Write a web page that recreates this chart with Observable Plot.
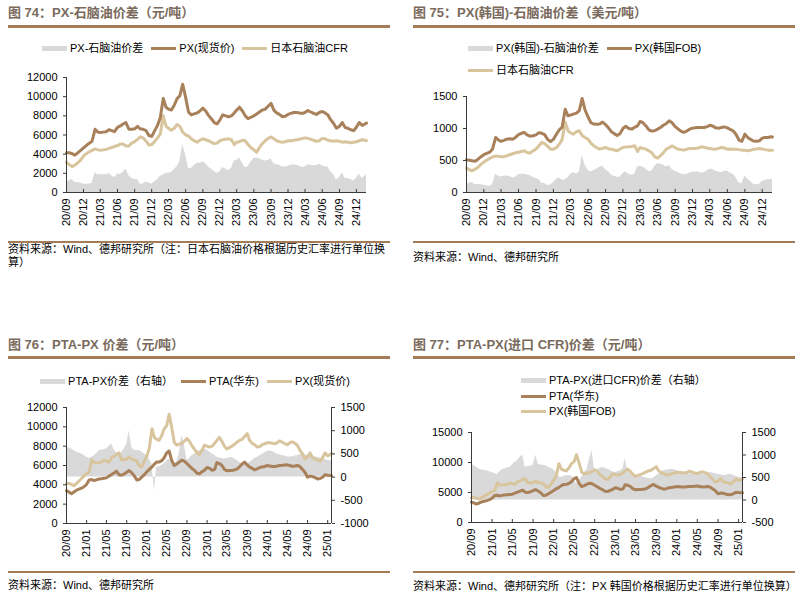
<!DOCTYPE html>
<html><head><meta charset="utf-8">
<script src="https://cdn.jsdelivr.net/npm/d3@7"></script>
<script src="https://cdn.jsdelivr.net/npm/@observablehq/plot@0.6"></script>
<style>
body{margin:0;background:#fff;}
#page{position:relative;width:805px;height:600px;overflow:hidden;font-family:"Liberation Sans",Arial,"Noto Sans CJK SC",sans-serif;color:#000;}
.title{position:absolute;font-size:13px;line-height:15px;font-weight:bold;color:#7a6a5c;white-space:nowrap;}
.rule{position:absolute;height:3px;background:#a57c58;}
.rule2{position:absolute;height:2px;background:#a57c58;}
.legend{position:absolute;font-size:11px;line-height:14px;white-space:nowrap;display:flex;align-items:center;}
.item{display:flex;align-items:center;margin-right:8px;}
.sw{display:inline-block;width:25px;margin-right:3px;}
.src{position:absolute;font-size:11px;line-height:13px;}
.plot{position:absolute;}
</style></head>
<body><div id="page"></div>
<script>
// ---------- data (semi-monthly readings, 2020-09 .. 2025-01) ----------
const pxCny = [
4150,4150,4050,3900,4150,4400,4650,4900,5150,5350,6600,6300,
6250,6300,6350,6550,6450,6350,6800,6950,7150,7300,6600,6600,
6650,6900,6650,6600,6450,5950,5850,6400,7000,7800,9800,8900,
8700,8600,9100,9800,10100,11300,9900,8400,8100,8200,8300,8500,
8800,8500,8050,7700,7300,7150,7550,8100,8000,7900,8000,8300,
8600,8900,8500,8000,7700,7850,8000,8200,8400,8600,8700,9000,
9300,8600,8300,8150,7900,7950,8150,8250,8350,8350,8300,8250,
8350,8550,8400,8250,8150,8350,8450,8300,8100,7600,7200,6700,
6900,7300,6800,6700,6550,6450,6800,7300,7000,7150,7250];
const naphCny = [
3150,2900,2700,2850,3100,3400,3800,4050,4250,4400,4550,4450,
4400,4450,4500,4600,4700,4800,4900,5050,5050,4850,4850,5150,
5300,5550,5800,5700,5350,4950,5000,5300,5700,6100,8000,6900,
6700,6500,6700,7100,6900,6300,6000,5900,5600,5400,5250,5450,
5600,5500,5400,5250,5100,5150,5400,5500,5550,5600,5500,5000,
5250,5300,5450,5400,5000,4700,4450,4200,4700,5100,5400,5650,
5800,5600,5400,5300,5250,5300,5400,5400,5450,5500,5550,5650,
5700,5650,5550,5450,5350,5400,5650,5600,5450,5400,5350,5400,
5350,5250,5300,5250,5200,5250,5300,5400,5500,5450,5400];
const spread74 = [
1000,1250,1350,1050,1050,1000,850,850,900,950,2050,1850,
1850,1850,1850,1950,1750,1550,1900,1900,2100,2450,1750,1450,
1350,1350,850,900,1100,1000,850,1100,1300,1700,1800,2000,
2000,2100,2400,2700,3200,5000,3900,2500,2500,2800,3050,3050,
3200,3000,2650,2450,2200,2000,2150,2600,2450,2300,2500,3300,
3350,3600,3050,2600,2700,3150,3550,3600,3500,3400,3300,3350,
3500,3000,2900,2850,2650,2650,2750,2850,2900,2850,2750,2600,
2650,2900,2850,2800,2800,2950,2800,2700,2650,2200,1850,1300,
1550,2050,1500,1450,1350,1200,1500,1900,1500,1700,1850];
const pxKorUsd = [
510,505,495,487,520,560,590,610,630,680,860,820,
800,815,833,840,833,860,905,925,938,900,880,886,
900,935,925,905,830,795,830,905,980,1020,1300,1198,
1210,1224,1240,1280,1470,1290,1180,1090,1070,1065,1070,1100,
1060,1010,950,920,890,920,1000,1035,1000,990,1020,1042,
1110,1090,1040,980,960,964,990,1016,1050,1075,1120,1090,
1030,995,960,940,960,990,1005,1010,1016,1016,1016,1030,
1050,1040,1010,1005,1015,1026,1010,985,964,910,820,800,
912,860,830,805,800,808,850,860,860,870,868];
const naphUsd = [
380,355,339,365,395,440,475,505,535,555,570,565,
557,560,575,590,605,620,628,640,651,625,615,650,
680,730,781,765,720,677,677,700,755,830,1100,964,
930,912,950,964,890,860,833,770,729,700,677,690,
703,685,677,665,651,680,703,710,714,720,729,640,
703,690,677,650,625,560,537,573,620,677,700,729,
700,677,670,662,675,688,688,688,695,714,705,695,
688,680,677,690,703,695,677,680,677,677,670,662,
660,651,660,677,680,688,680,670,662,662,662];
const spread75 = [
130,150,156,122,125,120,115,105,95,125,290,255,
243,255,258,250,228,240,277,285,287,275,265,236,
220,205,144,140,110,118,153,205,225,190,200,234,
280,312,290,316,580,430,347,320,341,365,393,410,
357,325,273,255,239,240,297,325,286,270,291,402,
407,400,363,330,335,404,453,443,430,398,420,361,
330,318,290,278,285,302,317,322,321,302,311,335,
362,360,333,315,312,331,333,305,287,233,150,138,
252,209,170,128,120,120,170,190,198,208,206];
const ptaCny = [
3400,3250,3070,3250,3450,3550,3650,3800,4050,4500,4550,4440,
4520,4600,4640,4680,4720,4900,5060,5230,5410,5050,5000,5110,
5300,5480,5250,4950,4500,4550,4800,5050,5350,5600,5850,6150,
6350,6350,6500,6800,7300,7500,6500,6000,6150,6350,6550,6450,
6200,5950,5700,5500,5200,5150,5350,5500,5800,5700,5500,5600,
6300,6200,6000,5600,5450,5480,5480,5550,5620,5850,6150,6350,
6050,5850,5700,5550,5650,5800,5850,5900,6000,5950,5900,5900,
5950,6000,6020,6050,6070,6000,5920,5950,6000,5900,5600,5300,
4790,4900,4860,4750,4610,4650,4790,5050,4990,4960,4960];
const spread76 = [
643,625,607,570,535,520,500,470,430,400,420,460,
500,560,580,595,607,660,715,590,520,470,530,600,
700,1000,650,571,571,571,540,500,460,380,280,-300,
220,220,250,290,340,390,330,290,320,500,900,700,
360,400,462,500,550,575,590,607,580,540,500,470,
430,410,400,390,400,415,420,390,360,320,290,282,
300,315,350,400,420,460,490,520,550,565,550,520,
500,480,465,455,440,430,440,455,462,480,500,480,
470,460,450,435,426,410,395,380,360,354,350];
const pxKorCny = pxCny;
const spread77 = [
797,760,720,690,670,655,650,630,610,590,575,620,
670,695,710,723,780,840,880,950,1000,730,740,750,
760,1000,800,780,770,760,730,700,680,600,520,500,
520,540,540,540,450,354,440,500,620,660,900,1100,
660,680,700,723,705,686,660,630,612,630,650,700,
920,640,590,570,550,540,520,505,495,480,470,490,
540,575,620,650,665,680,686,670,655,640,625,612,
595,578,590,605,612,595,580,575,595,610,600,585,
575,560,545,550,565,575,550,525,505,500,500];

const ticksQ = ["2020-09-01","2020-12-01","2021-03-01","2021-06-01","2021-09-01","2021-12-01","2022-03-01","2022-06-01","2022-09-01","2022-12-01","2023-03-01","2023-06-01","2023-09-01","2023-12-01","2024-03-01","2024-06-01","2024-09-01","2024-12-01"];
const ticks4 = ["2020-09-01","2021-01-01","2021-05-01","2021-09-01","2022-01-01","2022-05-01","2022-09-01","2023-01-01","2023-05-01","2023-09-01","2024-01-01","2024-05-01","2024-09-01","2025-01-01"];
const yTicks74 = [0,2000,4000,6000,8000,10000,12000];
const yTicks75 = [0,500,1000,1500];
const yTicks76 = [0,2000,4000,6000,8000,10000,12000];
const rTicks76 = [-1000,-500,0,500,1000,1500];
const yTicks77 = [0,5000,10000,15000];
const rTicks77 = [-500,0,500,1000,1500];

// ---------- dates ----------
const dates = d3.utcMonth.range(new Date("2020-09-01"), new Date("2025-02-01")).flatMap(d => [d, d3.utcDay.offset(d, 15)]);
dates.push(new Date("2025-01-24"));
const xDomain = [new Date("2020-09-01"), new Date("2025-01-24")];
const all = {pxCny, naphCny, spread74, pxKorUsd, naphUsd, spread75, ptaCny, spread76, spread77};
for (const [k, a] of Object.entries(all)) if (a.length !== dates.length) throw new Error(k + " has " + a.length + " vs " + dates.length);

const brown = "#a8815b", tan = "#d9c59d", grayFill = "#d9d9d9", axisColor = "#3a3a3a";
const LW = 3;
const fmtX = d3.utcFormat("%y/%m");
const page = document.getElementById("page");

function el(cls, css, html) {
  const d = document.createElement("div");
  d.className = cls; Object.assign(d.style, css); if (html != null) d.innerHTML = html;
  page.appendChild(d); return d;
}
function legendLine(left, top, items, width, center) {
  const d = el("legend", {left: left + "px", top: top + "px"});
  if (width) { d.style.width = width + "px"; d.style.justifyContent = center ? "center" : "flex-start"; }
  for (const [name, kind] of items) {
    const it = document.createElement("span"); it.className = "item";
    const sw = document.createElement("span"); sw.className = "sw";
    if (kind === "area") { sw.style.height = "5px"; sw.style.background = grayFill; }
    else { sw.style.height = "3px"; sw.style.background = kind === "brown" ? brown : tan; }
    it.appendChild(sw);
    const t = document.createElement("span"); t.textContent = name; it.appendChild(t);
    d.appendChild(it);
  }
}
function frameMarks(right) {
  const m = [Plot.ruleX([xDomain[0]], {stroke: axisColor}), Plot.ruleY([0], {stroke: axisColor})];
  if (right) m.push(Plot.ruleX([xDomain[1]], {stroke: axisColor}));
  return m;
}
function xAxes(ticks) {
  const t = ticks.map(s => new Date(s));
  return [
    Plot.axisX({ticks: t, tickSize: 3, dy: -3, tickFormat: () => "", label: null, stroke: axisColor}),
    Plot.axisX({ticks: t, tickSize: 0, tickPadding: 6, tickRotate: -90, tickFormat: fmtX, label: null, fontSize: 11})
  ];
}
function place(svg, left, top) {
  const d = el("plot", {left: left + "px", top: top + "px"});
  d.appendChild(svg);
}
const plotStyle = {fontFamily: "Liberation Sans, Arial, sans-serif", fontSize: "11px", color: "#000", background: "transparent", overflow: "visible"};

// ---------- Panel 74 ----------
el("title", {left: "8px", top: "5px"}, "图 74：PX-石脑油价差（元/吨）");
el("rule", {left: "8px", top: "25px", width: "382px"});
legendLine(8, 41, [["PX-石脑油价差","area"],["PX(现货价)","brown"],["日本石脑油CFR","tan"]], 382, true);
const rows74 = dates.map((date, i) => ({date, px: pxCny[i], naph: naphCny[i], spread: spread74[i]}));
place(Plot.plot({
  width: 390, height: 185, marginLeft: 66, marginRight: 24, marginTop: 17, marginBottom: 53,
  style: plotStyle,
  x: {type: "utc", domain: xDomain},
  y: {domain: [0, 12000]},
  marks: [
    Plot.areaY(rows74, {x: "date", y: "spread", fill: grayFill}),
    Plot.lineY(rows74, {x: "date", y: "naph", stroke: tan, strokeWidth: LW}),
    Plot.lineY(rows74, {x: "date", y: "px", stroke: brown, strokeWidth: LW}),
    Plot.axisY({ticks: yTicks74, tickFormat: d => String(d), tickSize: 3, tickPadding: 6, label: null, stroke: axisColor}),
    ...xAxes(ticksQ),
    ...frameMarks(false)
  ]
}), 0, 60);
el("rule2", {left: "8px", top: "241px", width: "382px"});
el("src", {left: "8px", top: "243px", width: "383px"}, "资料来源：Wind、德邦研究所（注：日本石脑油价格根据历史汇率进行单位换算）");

// ---------- Panel 75 ----------
el("title", {left: "413px", top: "5px"}, "图 75：PX(韩国)-石脑油价差（美元/吨）");
el("rule", {left: "413px", top: "25px", width: "382px"});
legendLine(468, 41, [["PX(韩国)-石脑油价差","area"],["PX(韩国FOB)","brown"]]);
legendLine(468, 63, [["日本石脑油CFR","tan"]]);
const rows75 = dates.map((date, i) => ({date, px: pxKorUsd[i], naph: naphUsd[i], spread: spread75[i]}));
place(Plot.plot({
  width: 400, height: 165, marginLeft: 66, marginRight: 28, marginTop: 16, marginBottom: 53,
  style: plotStyle,
  x: {type: "utc", domain: xDomain},
  y: {domain: [0, 1500]},
  marks: [
    Plot.areaY(rows75, {x: "date", y: "spread", fill: grayFill}),
    Plot.lineY(rows75, {x: "date", y: "naph", stroke: tan, strokeWidth: LW}),
    Plot.lineY(rows75, {x: "date", y: "px", stroke: brown, strokeWidth: LW}),
    Plot.axisY({ticks: yTicks75, tickFormat: d => String(d), tickSize: 3, tickPadding: 6, label: null, stroke: axisColor}),
    ...xAxes(ticksQ),
    ...frameMarks(false)
  ]
}), 400, 80);
el("rule2", {left: "413px", top: "241px", width: "382px"});
el("src", {left: "413px", top: "251px", width: "383px"}, "资料来源：Wind、德邦研究所");

// ---------- Panel 76 ----------
el("title", {left: "8px", top: "337px"}, "图 76：PTA-PX 价差（元/吨）");
el("rule", {left: "8px", top: "356px", width: "382px"});
legendLine(8, 374, [["PTA-PX价差（右轴）","area"],["PTA(华东)","brown"],["PX(现货价)","tan"]], 382, true);
const l76 = v => (v - rTicks76[0]) * (yTicks76[yTicks76.length-1] - yTicks76[0]) / (rTicks76[rTicks76.length-1] - rTicks76[0]);
const r76 = v => Math.round(v * (rTicks76[rTicks76.length-1] - rTicks76[0]) / (yTicks76[yTicks76.length-1] - yTicks76[0]) + rTicks76[0]);
const rows76 = dates.map((date, i) => ({date, pta: ptaCny[i], px: pxCny[i], s0: l76(0), s: l76(spread76[i])}));
place(Plot.plot({
  width: 400, height: 185, marginLeft: 66, marginRight: 69, marginTop: 17, marginBottom: 52,
  style: plotStyle,
  x: {type: "utc", domain: xDomain},
  y: {domain: [0, 12000]},
  marks: [
    Plot.areaY(rows76, {x: "date", y1: "s0", y2: "s", fill: grayFill}),
    Plot.lineY(rows76, {x: "date", y: "px", stroke: tan, strokeWidth: LW}),
    Plot.lineY(rows76, {x: "date", y: "pta", stroke: brown, strokeWidth: LW}),
    Plot.axisY({ticks: yTicks76, tickFormat: d => String(d), tickSize: 3, tickPadding: 6, label: null, stroke: axisColor}),
    Plot.axisY({anchor: "right", ticks: rTicks76.map(l76), tickFormat: d => String(r76(d)), tickSize: 3, tickPadding: 6, label: null, stroke: axisColor}),
    ...xAxes(ticks4),
    ...frameMarks(true)
  ]
}), 0, 390);
el("rule2", {left: "8px", top: "571px", width: "382px"});
el("src", {left: "8px", top: "579px", width: "383px"}, "资料来源：Wind、德邦研究所");

// ---------- Panel 77 ----------
el("title", {left: "413px", top: "337px"}, "图 77：PTA-PX(进口 CFR)价差（元/吨）");
el("rule", {left: "413px", top: "356px", width: "382px"});
legendLine(521, 373, [["PTA-PX(进口CFR)价差（右轴）","area"]]);
legendLine(521, 389, [["PTA(华东)","brown"]]);
legendLine(521, 404, [["PX(韩国FOB)","tan"]]);
const l77 = v => (v - rTicks77[0]) * (yTicks77[yTicks77.length-1] - yTicks77[0]) / (rTicks77[rTicks77.length-1] - rTicks77[0]);
const r77 = v => Math.round(v * (rTicks77[rTicks77.length-1] - rTicks77[0]) / (yTicks77[yTicks77.length-1] - yTicks77[0]) + rTicks77[0]);
const rows77 = dates.map((date, i) => ({date, pta: ptaCny[i], px: pxKorCny[i], s0: l77(0), s: l77(spread77[i])}));
place(Plot.plot({
  width: 400, height: 165, marginLeft: 71, marginRight: 58, marginTop: 22, marginBottom: 53,
  style: plotStyle,
  x: {type: "utc", domain: xDomain},
  y: {domain: [0, 15000]},
  marks: [
    Plot.areaY(rows77, {x: "date", y1: "s0", y2: "s", fill: grayFill}),
    Plot.lineY(rows77, {x: "date", y: "px", stroke: tan, strokeWidth: LW}),
    Plot.lineY(rows77, {x: "date", y: "pta", stroke: brown, strokeWidth: LW}),
    Plot.axisY({ticks: yTicks77, tickFormat: d => String(d), tickSize: 3, tickPadding: 6, label: null, stroke: axisColor}),
    Plot.axisY({anchor: "right", ticks: rTicks77.map(l77), tickFormat: d => String(r77(d)), tickSize: 3, tickPadding: 6, label: null, stroke: axisColor}),
    ...xAxes(ticks4),
    ...frameMarks(true)
  ]
}), 400, 410);
el("rule2", {left: "413px", top: "571px", width: "382px"});
el("src", {left: "413px", top: "580px", width: "390px"}, "资料来源：Wind、德邦研究所（注：PX 韩国价格根据历史汇率进行单位换算）");
</script>
</body></html>
